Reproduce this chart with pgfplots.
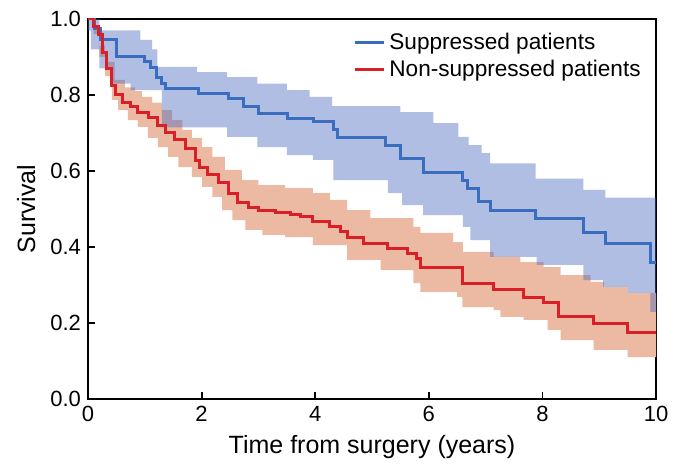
\documentclass[border=0pt]{standalone}
\usepackage{pgfplots}
\pgfplotsset{compat=1.18}
\usepgfplotslibrary{fillbetween}
\usepackage{fontspec}
\setmainfont{Liberation Sans}
\definecolor{supline}{RGB}{59,109,190}
\definecolor{nonline}{RGB}{218,32,38}
\definecolor{supband}{RGB}{71,104,192}
\definecolor{nonband}{RGB}{236,186,162}
\begin{document}
\begin{tikzpicture}
\begin{axis}[
  name=ax,
  scale only axis, width=284pt, height=190pt,
  xmin=0, xmax=10, ymin=0, ymax=1,
  xtick={0,2,4,6,8,10},
  ytick={0,0.2,0.4,0.6,0.8,1},
  xtick pos=bottom, ytick pos=left,
  tick align=inside,
  major tick length=3.5pt,
  every tick/.style={black, line width=0.9pt},
  axis line style={line width=0.9pt},
  /pgf/number format/assume math mode=true,
  yticklabel style={/pgf/number format/.cd, fixed, fixed zerofill, precision=1},
  tick label style={font=\fontsize{11}{13}\selectfont},
  xlabel={Time from surgery (years)},
  ylabel={Survival},
  label style={font=\fontsize{12.5}{15}\selectfont},
  xlabel style={at={(axis description cs:0.5,-0.126)}, anchor=center},
  ylabel style={at={(axis description cs:-0.109,0.5)}, anchor=center},
  legend style={draw=none, fill=none, at={(0.4665,0.975)}, anchor=north west,
     font=\fontsize{11.3}{13}\selectfont, inner sep=0pt, row sep=0pt,
     legend cell align=left},
  legend image code/.code={\draw[#1, line width=1.5pt] (0pt,0pt) -- (14.5pt,0pt);},
]
% ---- Non-suppressed band ----
\addplot[draw=none, const plot, name path=nu, forget plot] table {
0 1.0
0.1 0.98
0.2 0.93
0.3 0.887
0.47 0.84
0.65 0.82
0.83 0.81
0.95 0.795
1.13 0.78
1.3 0.76
1.48 0.734
1.66 0.708
1.83 0.687
2.01 0.663
2.19 0.637
2.41 0.603
2.71 0.576
3.0 0.563
3.47 0.555
3.96 0.542
4.26 0.524
4.56 0.497
4.97 0.476
5.73 0.453
5.85 0.437
6.43 0.413
6.6 0.387
7.14 0.374
7.61 0.36
8.02 0.347
8.32 0.326
8.85 0.308
9.08 0.295
9.5 0.279
10 0.279
};
\addplot[draw=none, const plot, name path=nl, forget plot] table {
0 1.0
0.1 0.96
0.2 0.9
0.3 0.85
0.42 0.787
0.53 0.76
0.7 0.734
0.88 0.716
1.06 0.687
1.23 0.663
1.41 0.637
1.59 0.61
1.83 0.584
2.01 0.558
2.19 0.532
2.36 0.497
2.54 0.471
2.77 0.445
3.07 0.432
3.47 0.426
3.96 0.405
4.56 0.366
5.15 0.339
5.73 0.305
5.85 0.282
6.5 0.268
6.59 0.242
7.14 0.234
7.26 0.216
7.67 0.208
8.09 0.182
8.32 0.155
8.9 0.129
9.5 0.11
10 0.11
};
\addplot[fill=nonband, draw=none, forget plot] fill between[of=nu and nl];
% ---- Suppressed band ----
\addplot[draw=none, const plot, name path=su, forget plot] table {
0 1.0
0.2 0.97
0.92 0.945
1.13 0.92
1.22 0.874
1.92 0.86
2.45 0.847
2.98 0.83
3.5 0.813
3.9 0.795
4.3 0.771
5.5 0.755
6.08 0.726
6.52 0.69
6.7 0.668
6.93 0.647
7.08 0.62
7.88 0.58
8.72 0.55
9.11 0.53
10 0.53
};
\addplot[draw=none, const plot, name path=sl, forget plot] table {
0 0.97
0.05 0.92
0.2 0.87
0.4 0.83
0.75 0.813
1.3 0.715
2.45 0.69
2.98 0.663
3.5 0.642
3.96 0.629
4.32 0.576
5.28 0.542
5.53 0.51
5.9 0.484
6.6 0.453
6.73 0.418
7.08 0.374
7.9 0.353
8.72 0.313
9.07 0.295
9.5 0.279
9.9 0.229
10 0.229
};
\addplot[fill=supband, fill opacity=0.43, draw=none, forget plot] fill between[of=su and sl];
% ---- Suppressed estimate ----
\addplot[supline, line width=1.5pt, const plot] table {
0 1.0
0.12 0.975
0.22 0.945
0.5 0.90
1.0 0.887
1.1 0.872
1.2 0.845
1.3 0.83
1.36 0.818
1.94 0.805
2.47 0.792
2.73 0.77
3.0 0.752
3.52 0.739
3.97 0.729
4.32 0.71
4.39 0.687
5.23 0.668
5.5 0.634
5.9 0.595
6.59 0.575
6.68 0.555
6.87 0.52
7.08 0.497
7.88 0.476
8.72 0.437
9.11 0.408
9.9 0.358
10 0.358
};
\addlegendentry{Suppressed patients}
% ---- Non-suppressed estimate ----
\addplot[nonline, line width=1.5pt, const plot] table {
0 1.0
0.09 0.98
0.18 0.958
0.26 0.913
0.33 0.87
0.42 0.826
0.48 0.80
0.6 0.78
0.74 0.77
0.88 0.755
1.06 0.742
1.22 0.72
1.36 0.70
1.53 0.682
1.71 0.66
1.89 0.628
1.97 0.61
2.11 0.59
2.29 0.571
2.47 0.542
2.64 0.518
2.82 0.505
3.0 0.497
3.3 0.492
3.56 0.485
3.74 0.479
3.96 0.466
4.26 0.453
4.44 0.44
4.56 0.426
4.85 0.41
5.27 0.397
5.62 0.384
5.78 0.37
5.85 0.347
6.5 0.345
6.59 0.305
7.14 0.287
7.67 0.268
8.02 0.253
8.28 0.216
8.9 0.2
9.5 0.174
10 0.174
};
\addlegendentry{Non-suppressed patients}
\end{axis}
\path[use as bounding box] ([shift={(-44pt,-33pt)}]ax.south west) rectangle ([shift={(13.5pt,9.5pt)}]ax.north east);
\end{tikzpicture}
\end{document}
